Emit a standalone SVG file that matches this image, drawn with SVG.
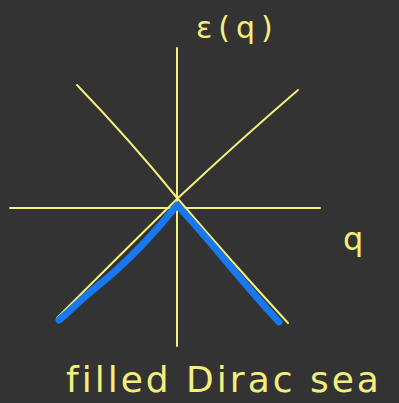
<svg xmlns="http://www.w3.org/2000/svg" width="399" height="403" viewBox="0 0 399 403">
<style>
.ax{stroke:#f4ef7c;stroke-width:2;fill:none;stroke-linecap:round;stroke-linejoin:round}
.bl{stroke:#1778f0;stroke-width:7;fill:none;stroke-linecap:round;stroke-linejoin:round}
.t{fill:#f4ef7c;font-family:"DejaVu Sans",sans-serif}
</style>
<rect width="399" height="403" fill="#333333"/>
<g id="axes">
<path class="ax" d="M177 48 L177 346"/>
<path class="ax" d="M10 208 L320 208"/>
<path class="ax" d="M77 85 Q130 140 178 199 Q230 260 288 323"/>
<path class="ax" d="M298 90 Q240 140 178 198 Q120 255 57 318"/>
</g>
<g id="sea">
<path class="bl" d="M59 320 L66 314 Q85 296 112 274 Q145 245 177 205 Q200 230 225 260 Q255 296 279 322"/>
</g>
<g id="labels">
<text class="t" x="196" y="38" font-size="30" letter-spacing="6">ε(q)</text>
<text class="t" x="343" y="250" font-size="32">q</text>
<text class="t" x="66" y="392" font-size="36" letter-spacing="3">filled Dirac sea</text>
</g>
</svg>
